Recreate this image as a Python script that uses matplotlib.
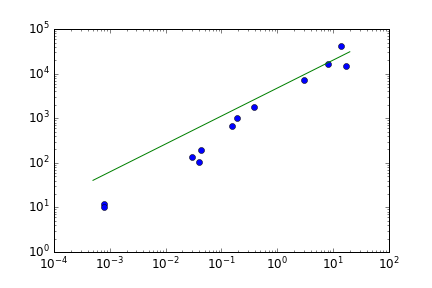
import matplotlib
matplotlib.use("Agg")
import matplotlib.pyplot as plt

plt.style.use("classic")

# measured points
x_data = [8e-4, 8e-4, 0.030, 0.040, 0.0435, 0.156, 0.192, 0.387, 3.04, 8.3, 14.0, 17.2]
y_data = [11.7, 10.0, 135, 103, 194, 658, 995, 1755, 7080, 16150, 40900, 14580]

# fitted power law (end points)
fit_x = [5e-4, 20.0]
fit_y = [40.5, 31000.0]

fig = plt.figure(figsize=(6, 4), dpi=72, facecolor="white")
ax = fig.add_axes([0.125, 0.125, 0.775, 0.774])

ax.loglog(x_data, y_data, "bo", markersize=6)
ax.loglog(fit_x, fit_y, "g-")

ax.set_xlim(1e-4, 1e2)
ax.set_ylim(1e0, 1e5)

fig.savefig("out.png", dpi=72, facecolor="white")
